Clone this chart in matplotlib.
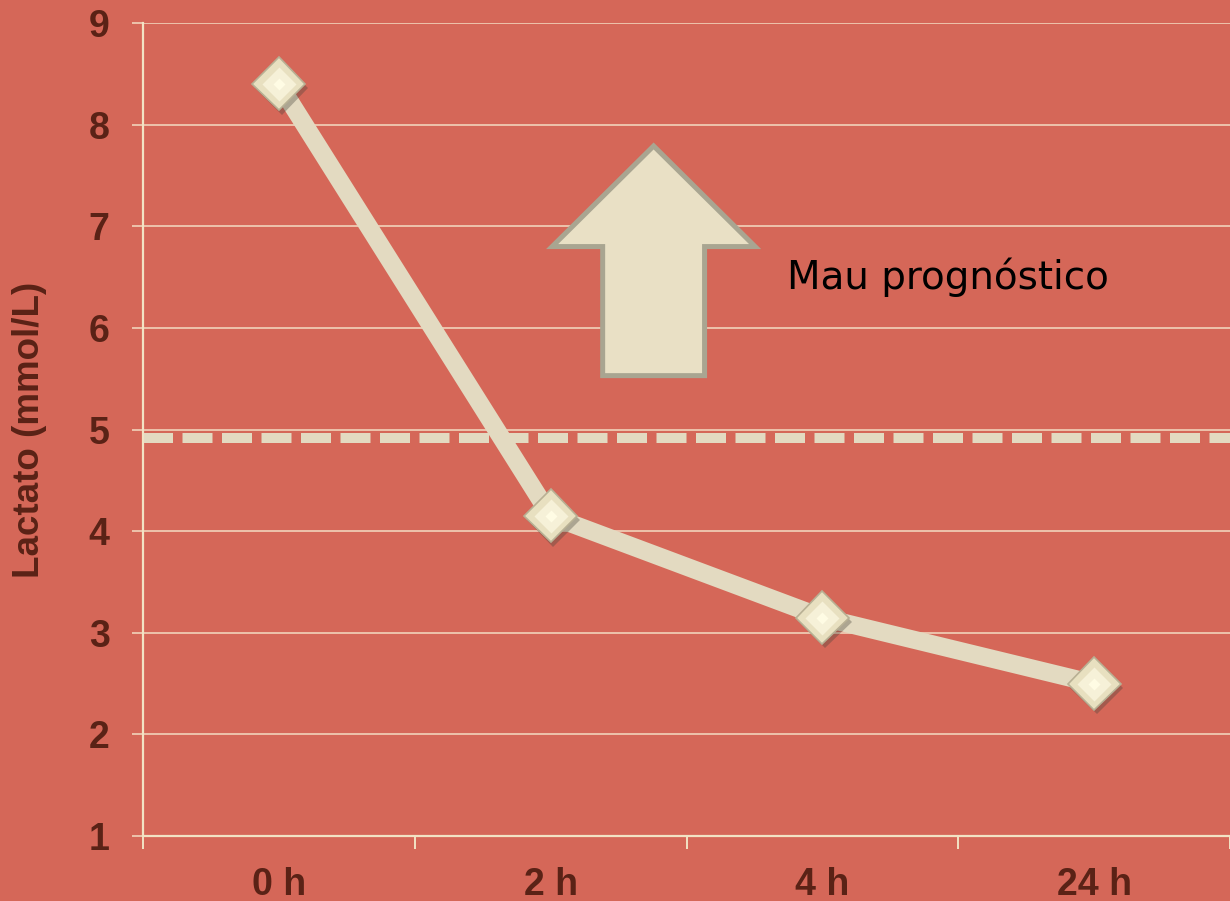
import matplotlib
matplotlib.use("Agg")
import matplotlib.pyplot as plt
import matplotlib.patheffects as pe
from matplotlib.patches import FancyArrow

# data
categories = ["0 h", "2 h", "4 h", "24 h"]
lactate = [8.4, 4.15, 3.15, 2.5]
threshold = 4.92
y_ticks = [1, 2, 3, 4, 5, 6, 7, 8, 9]

bg = "#D56758"
cream = "#E3DAC1"
grid_c = "#EDC3AC"
label_c = "#5A2216"

plt.rcParams["font.family"] = ["Liberation Sans", "DejaVu Sans"]

fig = plt.figure(figsize=(12.30, 9.01), dpi=100, facecolor=bg)
ax = fig.add_axes([143 / 1230, 65 / 901, 1087 / 1230, 813 / 901])
ax.set_facecolor(bg)

x = list(range(len(categories)))
ax.set_xlim(-0.5, len(categories) - 0.5)
ax.set_ylim(1, 9)

# grid
for v in y_ticks:
    ax.axhline(v, color=grid_c, lw=1.4, zorder=1)

# threshold dashed line
ax.axhline(threshold, color=cream, lw=7.2, linestyle=(0, (3, 0.95)),
           solid_capstyle="butt", dash_capstyle="butt", zorder=2)

# series line
ax.plot(x, lactate, color=cream, lw=13, solid_joinstyle="miter", zorder=3)

# bevelled diamond markers
ax.plot(x, lactate, linestyle="none", marker="D", ms=27, mfc="#E8E0C0",
        mec="#B8B094", mew=1.2, zorder=4,
        path_effects=[pe.SimplePatchShadow(offset=(2, -3), alpha=0.35),
                      pe.Normal()])
ax.plot(x, lactate, linestyle="none", marker="D", ms=17, mfc="#F6F1D8",
        mec="none", zorder=5)
ax.plot(x, lactate, linestyle="none", marker="D", ms=6, mfc="#FFFCE4",
        mec="none", zorder=6)

# block arrow
arrow = FancyArrow(1.379, 5.53, 0, 2.26, width=0.375, head_width=0.747,
                   head_length=0.99, length_includes_head=True,
                   facecolor="#E9E0C5", edgecolor="#A9A591", lw=3.6, zorder=7)
ax.add_patch(arrow)
ax.text(1.868, 6.5, "Mau progn\u00f3stico", fontsize=28, color="black",
        family=["DejaVu Sans"], ha="left", va="center", zorder=8)

# spines
for s in ["top", "right"]:
    ax.spines[s].set_visible(False)
for s in ["left", "bottom"]:
    ax.spines[s].set_color("#F2E3C4")
    ax.spines[s].set_linewidth(1.6)

# ticks
ax.set_yticks(y_ticks)
ax.set_yticklabels([str(v) for v in y_ticks])
ax.tick_params(axis="y", direction="out", length=8, width=1.4, color=grid_c,
               pad=16, labelsize=27, labelcolor=label_c)
for t in ax.get_yticklabels():
    t.set_fontweight("bold")

ax.set_xticks([i - 0.5 for i in range(len(categories) + 1)])
ax.set_xticklabels([""] * (len(categories) + 1))
ax.set_xticks(x, minor=True)
ax.set_xticklabels(categories, minor=True, fontweight="bold")
ax.tick_params(axis="x", which="major", direction="out", length=9,
               width=1.4, color="#F2E3C4")
ax.tick_params(axis="x", which="minor", length=0, pad=22, labelsize=27,
               labelcolor=label_c)

ax.set_ylabel("Lactato (mmol/L)", fontsize=26.5, fontweight="bold",
              color=label_c)
ax.yaxis.set_label_coords(-0.088, 0.5)

fig.savefig("out.png", dpi=100, facecolor=bg)
